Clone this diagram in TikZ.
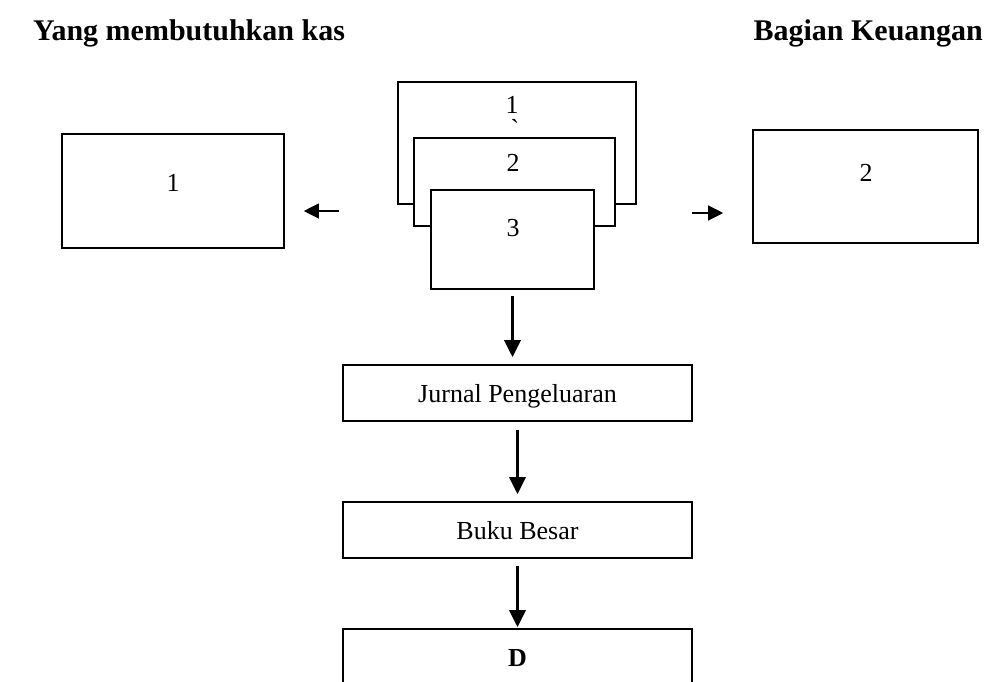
\documentclass[tikz,border=0pt]{standalone}
\usepackage{fontspec}
\setmainfont{Liberation Serif}
\usetikzlibrary{arrows.meta,positioning,calc}

\begin{document}
\begin{tikzpicture}[x=1pt, y=-1pt,
    box/.style={rectangle, draw, line width=1.6pt, fill=white, inner sep=0pt},
    txt/.style={font=\fontsize{26}{30}\selectfont, inner sep=0pt, text depth=0pt},
    head/.style={font=\fontsize{30}{36}\selectfont\bfseries, inner sep=0pt, anchor=base west},
    down/.style={-{Triangle[width=16pt,length=17pt]}, line width=3.4pt},
    side/.style={-{Triangle[width=15pt,length=15pt]}, line width=1.2pt}]

    \clip (0,0) rectangle (987,682);
    \useasboundingbox (0,0) rectangle (987,682);

    % judul kolom
    \node[head] (kas) at (33,41) {Yang membutuhkan kas};
    \node[head, anchor=base east] (keu) at (983,41) {Bagian Keuangan};

    % dokumen rangkap
    \node[box, minimum width=238pt, minimum height=122pt] (lembar1) at (517,143) {};
    \node[box, minimum width=201pt, minimum height=88pt] (lembar2) at (514.5,182) {};
    \node[box, minimum width=163pt, minimum height=99pt] (lembar3) at (512.5,239.5) {};
    \node[txt] (no1) at (512,105) {1};
    \node[txt, anchor=base] (aksen) at (515,138) {\textasciigrave};
    \node[txt] (no2) at (513,163) {2};
    \node[txt] (no3) at (513,228) {3};

    \node[box, minimum width=222pt, minimum height=114pt] (kiri) at (173,191) {};
    \node[txt] (kiri1) at (173,183) {1};
    \node[box, minimum width=225pt, minimum height=113pt] (kanan) at (865.5,186.5) {};
    \node[txt] (kanan2) at (866,173) {2};

    \node[box, txt, minimum width=349pt, minimum height=56pt] (jurnal) at (517.5,393) {Jurnal Pengeluaran};
    \node[box, txt, minimum width=349pt, minimum height=56pt] (buku) at (517.5,530) {Buku Besar};
    \node[box, txt, minimum width=349pt, minimum height=58pt] (d) at (517.5,658) {\bfseries D};

    % panah
    \coordinate (kiriA) at (339,211);
    \coordinate (kananA) at (692,213);
    \draw[side] (kiriA) -- ([xshift=19pt]kiri.east |- kiriA);
    \draw[side] (kananA) -- ([xshift=-29pt]kanan.west |- kananA);

    \draw[down] ([yshift=-6pt]lembar3.south) -- ([yshift=7pt]lembar3.south |- jurnal.north);
    \draw[down] ([yshift=-8pt]jurnal.south) -- ([yshift=7pt]buku.north);
    \draw[down] ([yshift=-7pt]buku.south) -- ([yshift=1pt]buku.south |- d.north);
\end{tikzpicture}
\end{document}
